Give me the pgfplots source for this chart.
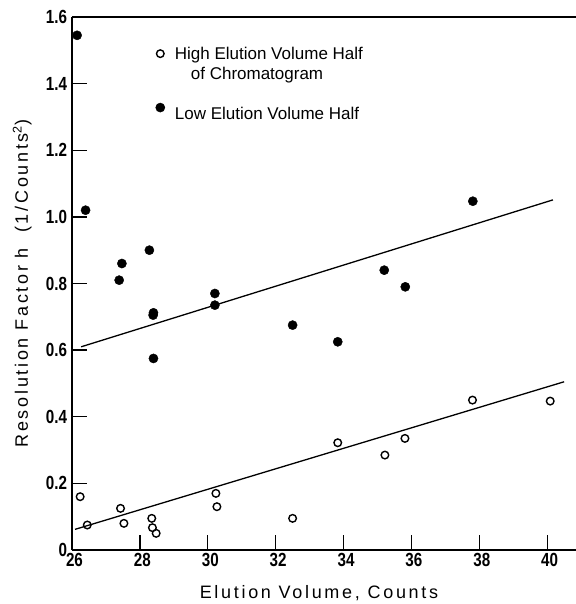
\documentclass[border=0pt]{standalone}
\usepackage{fontspec}
\setmainfont{Liberation Sans}
\newfontfamily\tickfont{Liberation Sans}[FakeStretch=0.8]
\newfontfamily\labfont{Liberation Sans}[LetterSpace=15]
\usepackage{pgfplots}
\pgfplotsset{compat=1.18}
\pgfplotsset{lowmark/.style={legend image code/.code={\path (0.3cm,21bp); \draw[mark repeat=2,mark phase=2,##1] plot coordinates {(0cm,0cm) (0.3cm,0cm) (0.6cm,0cm)};}}}
\begin{document}
\begin{tikzpicture}
\useasboundingbox (-72bp,-54bp) rectangle (504bp,550bp);
\begin{axis}[
  scale only axis,
  width=504bp, height=533bp,
  xmin=26, xmax=40.85, ymin=0, ymax=1.6,
  axis x line*=box, axis y line*=left,
  axis line style={line width=1.5bp},
  tick pos=left,
  tick align=inside,
  major tick length=15bp,
  every tick/.style={black, line width=1.3bp},
  xtick={26,28,...,40},
  ytick={0,0.2,0.4,0.6,0.8,1.0,1.2,1.4,1.6},
  yticklabels={0,0.2,0.4,0.6,0.8,1.0,1.2,1.4,1.6},
  /pgf/number format/assume math mode=true,
  tick label style={font=\tickfont\fontsize{19bp}{22bp}\selectfont\bfseries},
  xticklabel style={xshift=2.5bp},
  yticklabel style={xshift=-1.5bp},
  xlabel={Elution Volume, Counts},
  ylabel={Resolution Factor h \ (1/Counts\textsuperscript{2})},
  label style={font=\labfont\fontsize{18bp}{22bp}\selectfont},
  xlabel style={at={(axis description cs:0.49,-0.081)}, anchor=center},
  ylabel style={at={(axis description cs:-0.099,0.5)}, anchor=center},
  clip=false,
  legend style={draw=none, fill=none, at={(axis description cs:0.152,0.952)}, anchor=north west,
    font=\fontsize{17bp}{20bp}\selectfont, row sep=3bp, column sep=8bp},
  legend cell align=left,
]
\addplot[only marks, mark=o, mark size=3.8bp, line width=1.4bp, black] coordinates {
(26.24,0.16) (26.45,0.075) (27.43,0.125) (27.53,0.08) (28.35,0.095) (28.37,0.067)
(28.48,0.05) (30.24,0.17) (30.27,0.13) (32.50,0.095) (33.83,0.322) (35.22,0.285)
(35.81,0.335) (37.80,0.45) (40.09,0.447)
};
\addlegendentry{High Elution Volume Half}
\addlegendimage{empty legend}
\addlegendentry{\hspace*{16bp}of Chromatogram}
\addplot[only marks, mark=*, mark size=4.6bp, black, lowmark] coordinates {
(26.15,1.545) (26.40,1.02) (27.39,0.81) (27.47,0.86) (28.28,0.90) (28.39,0.705)
(28.40,0.712) (28.40,0.575) (30.21,0.77) (30.21,0.735) (32.50,0.675) (33.83,0.625)
(35.20,0.84) (35.82,0.79) (37.81,1.047)
};
\addlegendentry{\rule{0pt}{25bp}Low Elution Volume Half}
\addplot[black, line width=1.3bp, forget plot] coordinates {(26.27,0.61) (40.17,1.051)};
\addplot[black, line width=1.3bp, forget plot] coordinates {(26.09,0.062) (40.5,0.505)};
\end{axis}
\end{tikzpicture}
\end{document}
